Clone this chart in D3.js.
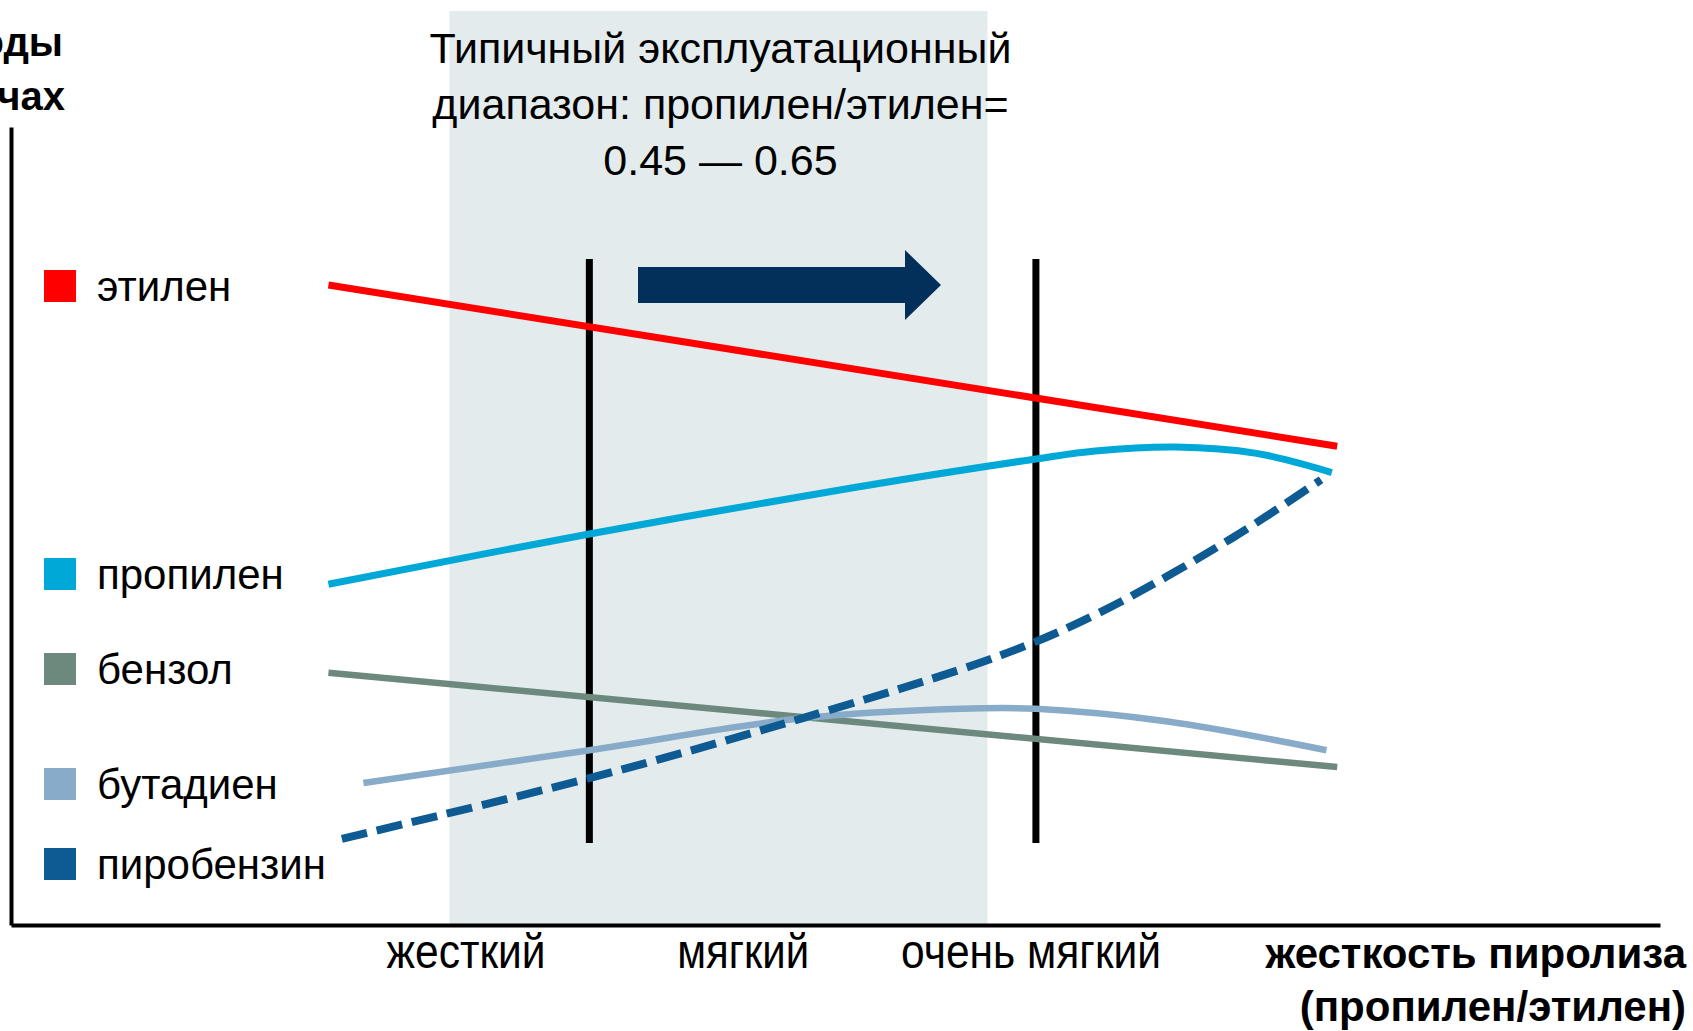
<!DOCTYPE html>
<html lang="ru">
<head>
<meta charset="utf-8">
<script src="https://cdn.jsdelivr.net/npm/d3@7"></script>
<style>
  html, body { margin: 0; padding: 0; background: #ffffff; }
  svg { display: block; }
  text { font-family: "Liberation Sans", Arial, sans-serif; fill: #000; }
</style>
</head>
<body>
<svg id="chart" width="1693" height="1031"></svg>
<script>
// Pyrolysis severity (propylene/ethylene ratio) vs. product yields, schematic.
const categories = ["этилен", "пропилен", "бензол", "бутадиен", "пиробензин"];
const seriesColors = ["#ff0000", "#00a8d8", "#6d887d", "#87abc8", "#0d5b92"];

// x: propylene/ethylene ratio, y: relative yield
const ethyleneX = [0.405, 0.780];
const ethyleneY = [80.2, 60.0];

const propyleneX = [0.405, 0.502, 0.600, 0.668, 0.690, 0.720, 0.750, 0.778];
const propyleneY = [42.7, 49.0, 54.8, 58.4, 59.4, 59.9, 59.1, 56.7];

const benzeneX = [0.405, 0.780];
const benzeneY = [31.6, 19.8];

const butadieneX = [0.418, 0.502, 0.581, 0.640, 0.668, 0.717, 0.776];
const butadieneY = [17.8, 21.9, 25.9, 27.1, 27.1, 25.5, 21.9];

const pyrogasolineX = [0.410, 0.502, 0.581, 0.655, 0.692, 0.741, 0.774];
const pyrogasolineY = [10.8, 18.4, 25.9, 33.8, 39.2, 48.5, 55.8];

// operating window and the two marker lines
const operatingRange = [0.45, 0.65];
const markerRatios = [0.502, 0.668];

// severity tick labels (narrow face: widths fixed per label)
const tickRatios = [0.456, 0.559, 0.666];
const tickLabels = ["жесткий", "мягкий", "очень мягкий"];
const tickLabelWidths = [159, 132, 260];

const titleLines = ["Типичный эксплуатационный", "диапазон: пропилен/этилен=", "0.45 — 0.65"];
const yTitleLines = ["Выходы", "в печах"];
const xTitleLines = ["жесткость пиролиза", "(пропилен/этилен)"];

const svg = d3.select("#chart");

const x = d3.scaleLinear().domain([0.287, 0.900]).range([11, 1660]);
const y = d3.scaleLinear().domain([0, 100]).range([925, 127]);

// shaded operating window
svg.append("rect")
  .attr("x", x(operatingRange[0]))
  .attr("y", 11)
  .attr("width", x(operatingRange[1]) - x(operatingRange[0]))
  .attr("height", y(0) - 11)
  .attr("fill", "#e3ebed");

// window caption
svg.append("g").selectAll("text")
  .data(titleLines)
  .join("text")
  .attr("x", (x(operatingRange[0]) + x(operatingRange[1])) / 2 + 2)
  .attr("y", (d, i) => 63 + i * 56)
  .attr("text-anchor", "middle")
  .style("font-size", "43px")
  .text(d => d);

// direction arrow
const arrowY = y(80.2);
const arrowPath = d3.path();
arrowPath.moveTo(638, arrowY - 18);
arrowPath.lineTo(905, arrowY - 18);
arrowPath.lineTo(905, arrowY - 35);
arrowPath.lineTo(941, arrowY);
arrowPath.lineTo(905, arrowY + 35);
arrowPath.lineTo(905, arrowY + 18);
arrowPath.lineTo(638, arrowY + 18);
arrowPath.closePath();
svg.append("path").attr("d", arrowPath.toString()).attr("fill", "#02305a");

// vertical marker lines
svg.append("g").selectAll("line")
  .data(markerRatios)
  .join("line")
  .attr("x1", d => x(d)).attr("x2", d => x(d))
  .attr("y1", 259).attr("y2", 843)
  .attr("stroke", "#000").attr("stroke-width", 7);

// series lines
const series = [
  { xs: ethyleneX, ys: ethyleneY, width: 7, dash: null },
  { xs: propyleneX, ys: propyleneY, width: 7, dash: null },
  { xs: benzeneX, ys: benzeneY, width: 6.5, dash: null },
  { xs: butadieneX, ys: butadieneY, width: 6.5, dash: null },
  { xs: pyrogasolineX, ys: pyrogasolineY, width: 8, dash: "26 10" }
];

const line = d3.line()
  .x(d => x(d[0]))
  .y(d => y(d[1]))
  .curve(d3.curveCatmullRom.alpha(0.5));

// draw order: butadiene/benzene under pyrogasoline
const drawOrder = [2, 3, 4, 1, 0];
svg.append("g").selectAll("path")
  .data(drawOrder)
  .join("path")
  .attr("d", i => line(series[i].xs.map((v, k) => [v, series[i].ys[k]])))
  .attr("fill", "none")
  .attr("stroke", i => seriesColors[i])
  .attr("stroke-width", i => series[i].width)
  .attr("stroke-dasharray", i => series[i].dash);

// axes
const xAxis = d3.axisBottom(x)
  .tickValues(tickRatios)
  .tickFormat((d, i) => tickLabels[i])
  .tickSize(0)
  .tickSizeOuter(0);
const gx = svg.append("g").attr("transform", `translate(0,${y(0)})`).call(xAxis);
gx.select(".domain").attr("stroke", "#000").attr("stroke-width", 4);
gx.selectAll(".tick text")
  .attr("y", 43).attr("dy", 0)
  .attr("fill", "#000")
  .attr("textLength", (d, i) => tickLabelWidths[i])
  .attr("lengthAdjust", "spacingAndGlyphs")
  .style("font-family", "'Liberation Sans Narrow', 'Arial Narrow', 'Liberation Sans', sans-serif")
  .style("font-size", "49px");

const yAxis = d3.axisLeft(y).tickValues([]).tickSizeOuter(0);
const gy = svg.append("g").attr("transform", `translate(${x.range()[0]},0)`).call(yAxis);
gy.select(".domain").attr("stroke", "#000").attr("stroke-width", 4);

// axis titles
svg.append("g").selectAll("text")
  .data(xTitleLines)
  .join("text")
  .attr("x", 1686)
  .attr("y", (d, i) => 968 + i * 53)
  .attr("text-anchor", "end")
  .style("font-size", "42px")
  .style("font-weight", "bold")
  .text(d => d);

svg.append("g").selectAll("text")
  .data(yTitleLines)
  .join("text")
  .attr("x", (d, i) => i === 0 ? 63 : 65)
  .attr("y", (d, i) => 56 + i * 54)
  .attr("text-anchor", "end")
  .style("font-size", "40px")
  .style("font-weight", "bold")
  .text(d => d);

// legend
const legendY = [286, 574, 669, 784, 864];
const legend = svg.append("g").selectAll("g")
  .data(categories)
  .join("g")
  .attr("transform", (d, i) => `translate(44,${legendY[i]})`);
legend.append("rect")
  .attr("x", 0).attr("y", -16)
  .attr("width", 32).attr("height", 32)
  .attr("fill", (d, i) => seriesColors[i]);
legend.append("text")
  .attr("x", 53).attr("dy", "0.36em")
  .style("font-size", "42px")
  .text(d => d);
</script>
</body>
</html>
